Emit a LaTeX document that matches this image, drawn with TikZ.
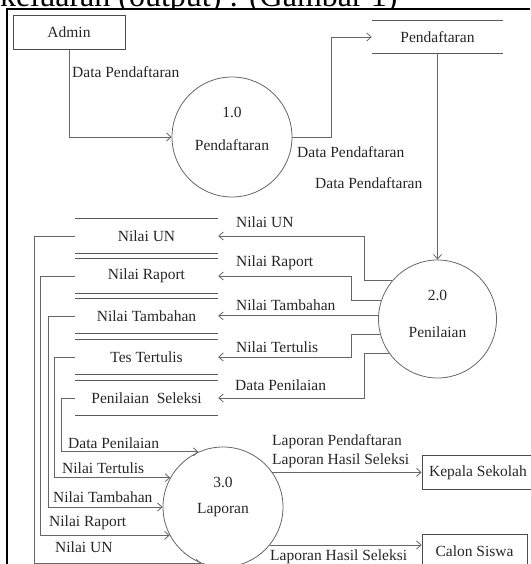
\documentclass[tikz,border=0pt]{standalone}
\usepackage{fontspec}
\setmainfont{Liberation Serif}
\usetikzlibrary{arrows.meta, positioning, calc}

\begin{document}
\begin{tikzpicture}[x=1pt, y=-1pt,
        proc/.style={draw=black!60, circle, line width=0.8pt, minimum size=120pt, inner sep=0pt},
        store/.style={minimum width=143pt, minimum height=34pt, inner sep=0pt},
        ent/.style={draw=black!70, line width=0.8pt, minimum height=34pt, inner sep=0pt},
        arrow/.style={-{Straight Barb[length=4.5pt,width=8pt]}, draw=black!60, line width=0.8pt},
        line/.style={draw=black!65, line width=1pt},
        lbl/.style={anchor=west, inner sep=0pt},
        every node/.style={font=\fontsize{15.5}{19}\selectfont, text=black!85}
    ]
    \useasboundingbox (0,0) rectangle (530,564);

    % Heading (cut off at the top)
    \begin{scope}
        \clip (0,0) rectangle (530,8.5);
        \node[anchor=base west, inner sep=0pt, font=\fontsize{32}{36}\selectfont, text=black] (heading) at (0,6.5) {keluaran (output) : (Gambar 1)};
    \end{scope}
    \draw[black, line width=1.2pt] (7,564) -- (7,9) -- (530,9);

    % Entities
    \node[ent, minimum width=112pt] (admin) at (69,32.5) {Admin};
    \node[ent, minimum width=112pt] (kepsek) at (478,472.5) {Kepala Sekolah};
    \node[ent, minimum width=105pt] (siswa) at (474.5,551) {Calon Siswa};

    % Processes
    \node[proc] (p1) at (232,137) {};
    \node (p1_no) at ($(p1)+(0,-25)$) {1.0};
    \node (p1_name) at ($(p1)+(0,8)$) {Pendaftaran};
    \node[proc, minimum size=118pt] (p2) at (437.5,319) {};
    \node (p2_no) at ($(p2)+(0,-24)$) {2.0};
    \node (p2_name) at ($(p2)+(0,13)$) {Penilaian};
    \node[proc] (p3) at (223,507) {};
    \node (p3_no) at ($(p3)+(0,-25)$) {3.0};
    \node (p3_name) at ($(p3)+(0,3)$) {Laporan};

    % Data stores
    \node[store, minimum width=131pt, minimum height=32pt] (st_daftar) at (437.5,37) {Pendaftaran};
    \node[store] (st_un) at (146.5,236) {Nilai UN};
    \node[store] (st_raport) at (146.5,276) {Nilai Raport};
    \node[store] (st_tambah) at (146.5,316) {Nilai Tambahan};
    \node[store] (st_tes) at (146.5,357) {Tes Tertulis};
    \node[store] (st_seleksi) at (146.5,398) {Penilaian\ \ Seleksi};
    \draw[line] (st_daftar.north west) -- (st_daftar.north east) (st_daftar.south west) -- (st_daftar.south east);
    \draw[line] (st_un.north west) -- (st_un.north east) (st_un.south west) -- (st_un.south east);
    \draw[line] (st_raport.north west) -- (st_raport.north east) (st_raport.south west) -- (st_raport.south east);
    \draw[line] (st_tambah.north west) -- (st_tambah.north east) (st_tambah.south west) -- (st_tambah.south east);
    \draw[line] (st_tes.north west) -- (st_tes.north east) (st_tes.south west) -- (st_tes.south east);
    \draw[line] (st_seleksi.north west) -- (st_seleksi.north east) (st_seleksi.south west) -- (st_seleksi.south east);

    % Pendaftaran flows
    \draw[arrow] (admin.south) |- (p1.west);
    \node[lbl] (l_admin) at (72,72) {Data Pendaftaran};
    \draw[arrow] (p1.east) -- ++(39,0) |- (st_daftar.west);
    \node[lbl] (l_p1) at (297,152) {Data Pendaftaran};
    \draw[arrow] (st_daftar.south) -- (p2.north);
    \node[lbl] (l_p2) at (315,183) {Data Pendaftaran};

    % Penilaian to stores
    \draw[arrow] (p2.140) -- ++(-28,0) |- (st_un.east);
    \node[lbl] (l_un) at (236,222) {Nilai UN};
    \draw[arrow] (p2.162) -- ++(-30,0) |- (st_raport.east);
    \node[lbl] (l_raport) at (236,263) {Nilai Raport};
    \draw[arrow] (p2.177) -- (p2.177 -| st_tambah.east);
    \node[lbl] (l_tambah) at (236,305) {Nilai Tambahan};
    \draw[arrow] (p2.195) -- ++(-29,0) |- (st_tes.east);
    \node[lbl] (l_tes) at (236,347) {Nilai Tertulis};
    \draw[arrow] (p2.215) -- ++(-24,0) |- (st_seleksi.east);
    \node[lbl] (l_seleksi) at (235,385) {Data Penilaian};

    % Stores to Laporan
    \draw[arrow] (st_un.west) -- ++(-40,0) |- (p3.249);
    \draw[arrow] (st_raport.west) -- ++(-34,0) |- (p3.208);
    \draw[arrow] (st_tambah.west) -- ++(-26,0) |- (p3.west);
    \draw[arrow] (st_tes.west) -- ++(-20,0) |- (p3.151);
    \draw[arrow] (st_seleksi.west) -- ++(-13,0) |- (p3.114);
    \node[lbl] (l3_seleksi) at (68,443) {Data Penilaian};
    \node[lbl] (l3_tes) at (62,468) {Nilai Tertulis};
    \node[lbl] (l3_tambah) at (53,497) {Nilai Tambahan};
    \node[lbl] (l3_raport) at (49,523) {Nilai Raport};
    \node[lbl] (l3_un) at (55,547) {Nilai UN};

    % Laporan outputs
    \draw[arrow] (p3.35) -- (p3.35 -| kepsek.west);
    \node[lbl, align=left] (l_kepsek) at (272,451) {Laporan Pendaftaran\\Laporan Hasil Seleksi};
    \draw[arrow] (p3.-39) -- (p3.-39 -| siswa.west);
    \node[lbl] (l_siswa) at (270,557) {Laporan Hasil Seleksi};

\end{tikzpicture}
\end{document}
